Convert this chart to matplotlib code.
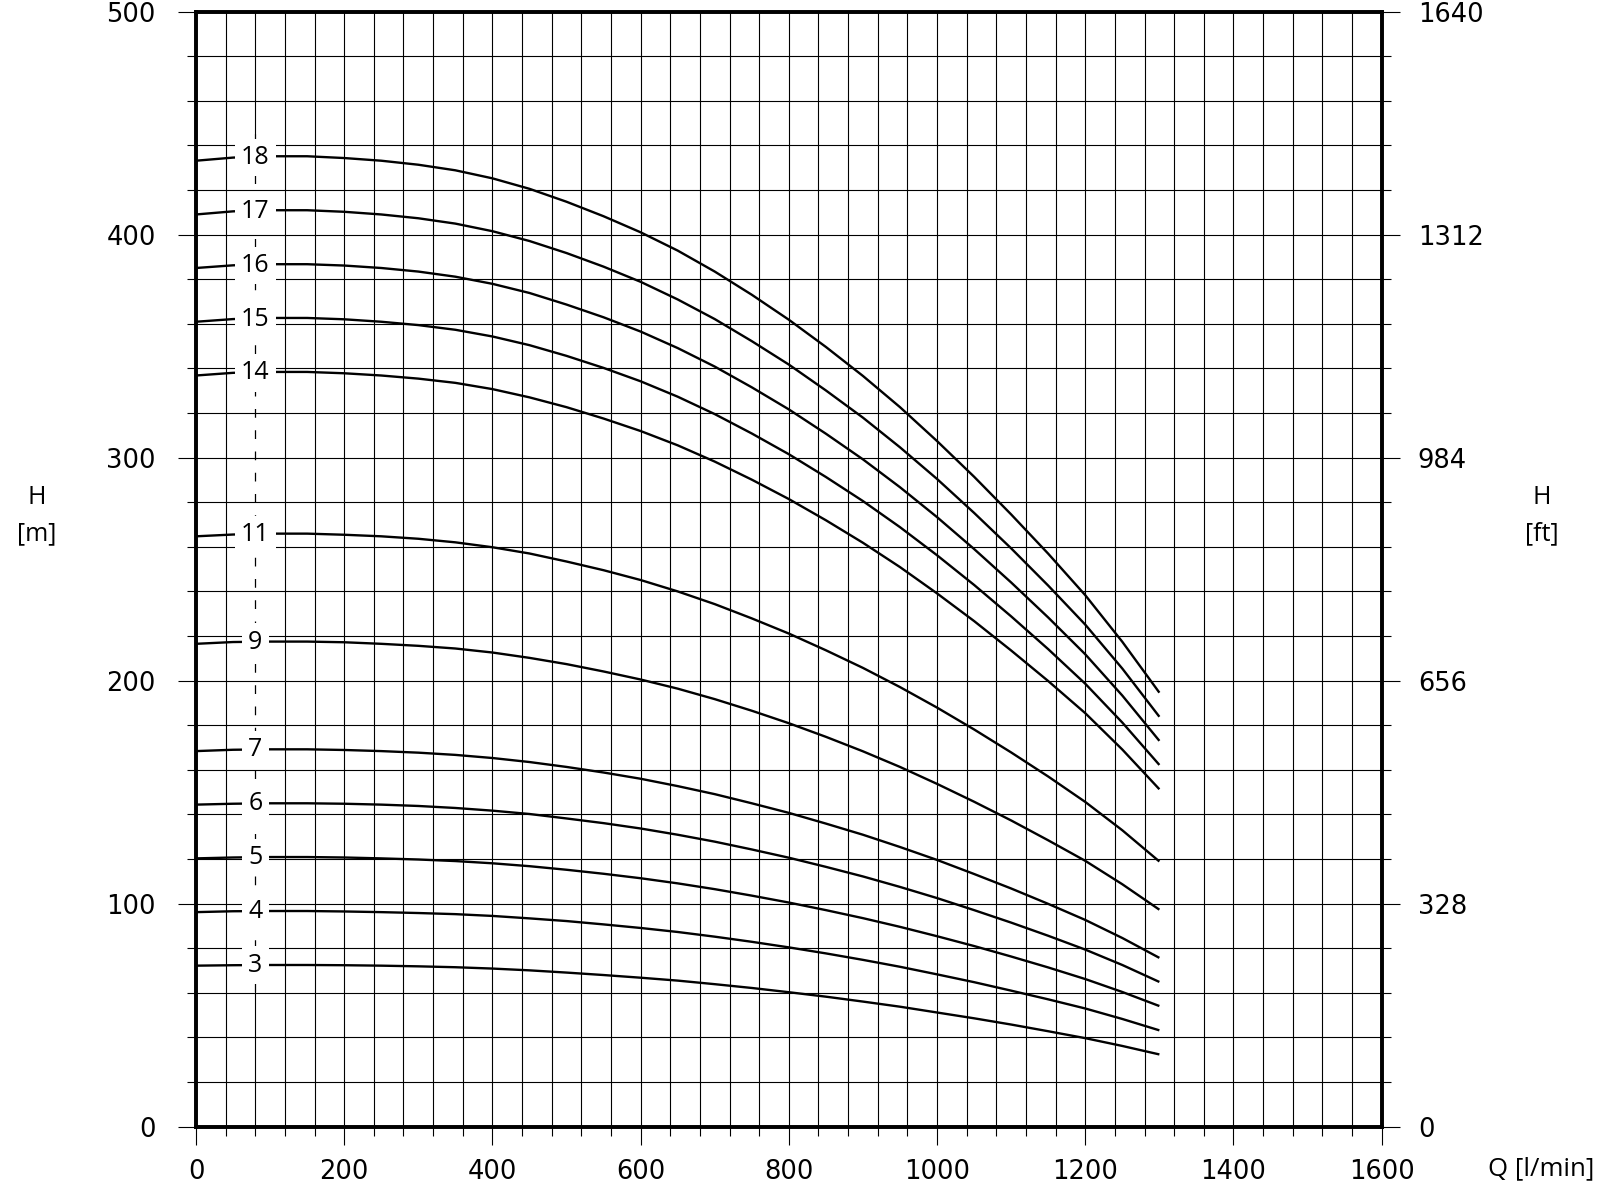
import numpy as np
import matplotlib
matplotlib.use("Agg")
import matplotlib.pyplot as plt
from matplotlib.ticker import MultipleLocator, FixedLocator

plt.rcParams['font.family'] = ['Open Sans', 'DejaVu Sans']

# ---------------- data ----------------
flow = [0, 50, 100, 150, 200, 250, 300, 350, 400, 450, 500, 550, 600, 650,
        700, 750, 800, 850, 900, 950, 1000, 1050, 1100, 1150, 1200, 1250, 1300]

stages = ["3", "4", "5", "6", "7", "9", "11", "14", "15", "16", "17", "18"]

head_3 = [72.2, 72.4, 72.5, 72.5, 72.4, 72.2, 71.9, 71.5, 70.9, 70.1, 69.1, 68.0, 66.8, 65.5,
          63.9, 62.2, 60.3, 58.3, 56.1, 53.8, 51.2, 48.6, 45.8, 42.8, 39.7, 36.2, 32.4]
head_4 = [96.2, 96.6, 96.7, 96.7, 96.5, 96.2, 95.8, 95.3, 94.5, 93.4, 92.2, 90.7, 89.1, 87.3,
          85.2, 82.9, 80.4, 77.7, 74.8, 71.7, 68.3, 64.8, 61.0, 57.1, 53.0, 48.3, 43.2]
head_5 = [120.3, 120.7, 120.9, 120.9, 120.7, 120.3, 119.8, 119.1, 118.1, 116.8, 115.2, 113.4, 111.4, 109.1,
          106.5, 103.6, 100.5, 97.1, 93.5, 89.6, 85.4, 81.0, 76.3, 71.4, 66.2, 60.4, 54.1]
head_6 = [144.4, 144.8, 145.0, 145.0, 144.8, 144.4, 143.8, 142.9, 141.7, 140.2, 138.2, 136.1, 133.7, 130.9,
          127.8, 124.3, 120.6, 116.5, 112.2, 107.5, 102.5, 97.1, 91.5, 85.6, 79.4, 72.5, 64.9]
head_7 = [168.4, 169.0, 169.2, 169.2, 168.9, 168.4, 167.7, 166.7, 165.3, 163.5, 161.3, 158.8, 156.0, 152.7,
          149.1, 145.0, 140.7, 135.9, 130.9, 125.4, 119.6, 113.3, 106.8, 99.9, 92.7, 84.6, 75.7]
head_9 = [216.5, 217.3, 217.5, 217.5, 217.2, 216.5, 215.6, 214.4, 212.6, 210.2, 207.4, 204.1, 200.5, 196.4,
          191.7, 186.5, 180.9, 174.8, 168.3, 161.3, 153.7, 145.7, 137.3, 128.4, 119.2, 108.7, 97.3]
head_11 = [264.7, 265.5, 265.9, 265.9, 265.4, 264.7, 263.6, 262.0, 259.8, 257.0, 253.4, 249.5, 245.1, 240.0,
           234.3, 227.9, 221.1, 213.6, 205.7, 197.1, 187.9, 178.1, 167.8, 157.0, 145.6, 132.9, 118.9]
head_14 = [336.8, 338.0, 338.4, 338.4, 337.8, 336.8, 335.4, 333.5, 330.7, 327.0, 322.6, 317.5, 311.9, 305.5,
           298.2, 290.1, 281.4, 271.9, 261.8, 250.9, 239.1, 226.7, 213.5, 199.8, 185.4, 169.1, 151.3]
head_15 = [360.9, 362.1, 362.6, 362.6, 362.0, 360.9, 359.4, 357.3, 354.3, 350.4, 345.6, 340.2, 334.2, 327.3,
           319.5, 310.8, 301.5, 291.3, 280.5, 268.8, 256.2, 242.9, 228.8, 214.1, 198.6, 181.2, 162.2]
head_16 = [385.0, 386.2, 386.7, 386.7, 386.1, 385.0, 383.4, 381.1, 377.9, 373.8, 368.6, 362.9, 356.5, 349.1,
           340.8, 331.5, 321.6, 310.7, 299.2, 286.7, 273.3, 259.0, 244.0, 228.3, 211.8, 193.3, 173.0]
head_17 = [409.0, 410.4, 410.9, 410.9, 410.2, 409.0, 407.3, 404.9, 401.5, 397.1, 391.7, 385.6, 378.8, 370.9,
           362.1, 352.2, 341.7, 330.1, 317.9, 304.6, 290.4, 275.2, 259.3, 242.6, 225.1, 205.4, 183.8]
head_18 = [433.1, 434.5, 435.1, 435.1, 434.3, 433.1, 431.3, 428.8, 425.2, 420.5, 414.7, 408.2, 401.0, 392.8,
           383.4, 373.0, 361.8, 349.6, 336.6, 322.6, 307.4, 291.4, 274.5, 256.9, 238.3, 217.4, 194.6]

curves = [head_3, head_4, head_5, head_6, head_7, head_9, head_11,
          head_14, head_15, head_16, head_17, head_18]

x_ticks = [0, 200, 400, 600, 800, 1000, 1200, 1400, 1600]
y_ticks_m = [0, 100, 200, 300, 400, 500]
y_ticks_ft = [0, 328, 656, 984, 1312, 1640]

# ---------------- figure ----------------
W, H = 1600, 1186
fig = plt.figure(figsize=(W / 100, H / 100), dpi=100)
left, right = 196 / W, 1381.7 / W
bottom, top = 1 - 1126.7 / H, 1 - 11.5 / H
ax = fig.add_axes([left, bottom, right - left, top - bottom])

ax.set_xlim(0, 1600)
ax.set_ylim(0, 500)

grid_kw = dict(color='black', lw=0.8, zorder=1)
label_x = 80
for gx in np.arange(40, 1600, 40):
    if gx == label_x:
        continue
    ax.axvline(gx, **grid_kw)
for gy in np.arange(20, 500, 20):
    ax.axhline(gy, **grid_kw)

# dashed reference line through the stage labels
ax.plot([label_x, label_x], [445, 500], color='black', lw=0.8, zorder=1)
ax.plot([label_x, label_x], [0, 61], color='black', lw=0.8, zorder=1)
ax.plot([label_x, label_x], [61, 445], color='black', lw=0.9, zorder=1,
        linestyle=(0, (7, 10)))

for name, h in zip(stages, curves):
    ax.plot(flow, h, color='black', lw=1.7, zorder=3, solid_capstyle='butt',
            solid_joinstyle='round')
    ax.text(label_x, h[1], name, fontsize=18, ha='center', va='center', zorder=4,
            bbox=dict(boxstyle='square,pad=0.25', fc='white', ec='none'))

tick_font = ['DejaVu Sans']

# ticks
ax.xaxis.set_major_locator(FixedLocator(x_ticks))
ax.xaxis.set_minor_locator(MultipleLocator(40))
ax.yaxis.set_major_locator(FixedLocator(y_ticks_m))
ax.yaxis.set_minor_locator(MultipleLocator(20))
ax.set_xticklabels([str(v) for v in x_ticks], family=tick_font)
ax.set_yticklabels([str(v) for v in y_ticks_m], family=tick_font)
ax.tick_params(axis='both', which='major', direction='out', length=13, width=0.8,
               labelsize=18.5, colors='black')
ax.tick_params(axis='both', which='minor', direction='out', length=6.5, width=0.8)
ax.tick_params(axis='x', which='major', pad=10)
ax.tick_params(axis='y', which='major', pad=16)

for s in ax.spines.values():
    s.set_linewidth(2.6)
    s.set_zorder(5)

ax2 = ax.twinx()
ax2.set_ylim(0, 1640)
ax2.yaxis.set_major_locator(FixedLocator(y_ticks_ft))
ax2.yaxis.set_minor_locator(MultipleLocator(65.6))
ax2.set_yticklabels([str(v) for v in y_ticks_ft], family=tick_font)
ax2.tick_params(axis='y', which='major', direction='out', length=13, width=0.8,
                labelsize=18.5, pad=13)
ax2.tick_params(axis='y', which='minor', direction='out', length=6.5, width=0.8)
for s in ax2.spines.values():
    s.set_linewidth(2.6)

# axis titles
fig.text(36.7 / W, 1 - 497 / H, "H", fontsize=18, ha='center', va='center')
fig.text(36.7 / W, 1 - 534 / H, "[m]", fontsize=18, ha='center', va='center')
fig.text(1542 / W, 1 - 497 / H, "H", fontsize=18, ha='center', va='center')
fig.text(1542 / W, 1 - 534 / H, "[ft]", fontsize=18, ha='center', va='center')
fig.text(1541 / W, 1 - 1169 / H, "Q [l/min]", fontsize=18.5, ha='center', va='center')

fig.savefig("out.png", dpi=100, facecolor='white')
